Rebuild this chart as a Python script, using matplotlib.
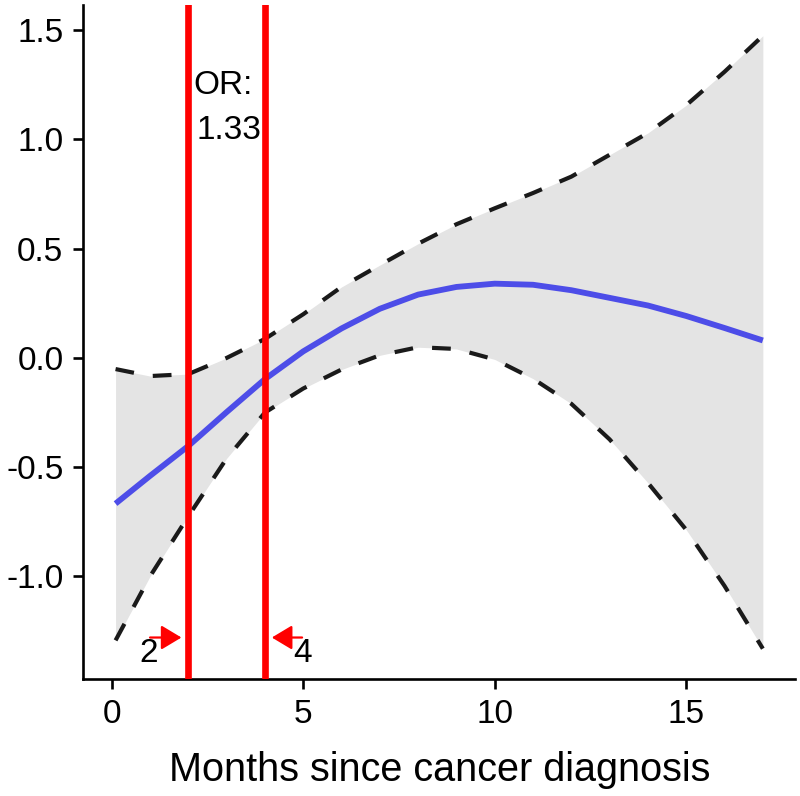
import matplotlib
matplotlib.use("Agg")
import matplotlib.pyplot as plt

plt.rcParams["font.family"] = ["Liberation Sans", "DejaVu Sans"]
plt.rcParams["axes.unicode_minus"] = False

# spline fit with its confidence band
months = [0.1, 1, 2, 3, 4, 5, 6, 7, 8, 9, 10, 11, 12, 13, 14, 15, 16, 17]
fit = [-0.667, -0.54, -0.403, -0.248, -0.097, 0.03, 0.135, 0.225, 0.29, 0.325,
       0.34, 0.335, 0.31, 0.275, 0.24, 0.192, 0.137, 0.08]
upper = [-0.051, -0.083, -0.074, 0.0, 0.087, 0.2, 0.325, 0.425, 0.523, 0.612,
         0.685, 0.755, 0.83, 0.93, 1.03, 1.157, 1.31, 1.475]
lower = [-1.293, -1.0, -0.725, -0.46, -0.25, -0.14, -0.053, 0.012, 0.049, 0.041,
         -0.007, -0.095, -0.21, -0.373, -0.572, -0.787, -1.044, -1.331]

cutoffs = [2, 4]
or_label = ["OR:", "1.33"]

xticks = [0, 5, 10, 15]
yticks = [-1.0, -0.5, 0.0, 0.5, 1.0, 1.5]

fig = plt.figure(figsize=(8, 7.96), dpi=100)
ax = fig.add_axes([0.104, 0.1466, 0.89, 0.847])

ax.fill_between(months, lower, upper, color="#e4e4e4", lw=0, zorder=1)
ax.plot(months, fit, color="#4d4de8", lw=4.2, solid_capstyle="butt", zorder=2)
for band in (upper, lower):
    ax.plot(months, band, color="#1a1a1a", lw=3, ls=(0, (4.5, 4.6)), zorder=3)

for c in cutoffs:
    ax.axvline(c, color="red", lw=4.8, zorder=4)

ax.text(2.12, 1.21, or_label[0], fontsize=24, ha="left", va="baseline", zorder=5)
ax.text(2.22, 1.0, or_label[1], fontsize=24, ha="left", va="baseline", zorder=5)

arrow = dict(arrowstyle="-|>,head_length=0.5,head_width=0.3", color="red",
             lw=1.6, mutation_scale=25, shrinkA=0, shrinkB=0)
ax.annotate("", xy=(1.82, -1.28), xytext=(1.0, -1.28), arrowprops=arrow, zorder=5)
ax.annotate("", xy=(4.18, -1.28), xytext=(4.97, -1.28), arrowprops=arrow, zorder=5)
ax.text(0.97, -1.394, str(cutoffs[0]), fontsize=24, ha="center", va="baseline")
ax.text(4.97, -1.394, str(cutoffs[1]), fontsize=24, ha="center", va="baseline")

# ggplot-style 5% expansion
xr = months[-1] - months[0]
ax.set_xlim(months[0] - 0.05 * xr, months[-1] + 0.05 * xr)
ymin, ymax = min(lower), max(upper)
yr = ymax - ymin
ax.set_ylim(ymin - 0.05 * yr, ymax + 0.05 * yr)

ax.set_xticks(xticks)
ax.set_xticklabels([str(t) for t in xticks])
ax.set_yticks(yticks)
ax.set_yticklabels([f"{t:.1f}" for t in yticks])

for side in ("top", "right"):
    ax.spines[side].set_visible(False)
for side in ("left", "bottom"):
    ax.spines[side].set_linewidth(1.9)
ax.tick_params(axis="both", length=7.2, width=1.9, labelsize=24, colors="black")
ax.tick_params(axis="x", pad=7)
ax.tick_params(axis="y", pad=7)

ax.set_xlabel("Months since cancer diagnosis", fontsize=28.5, labelpad=15)

fig.savefig("out.png", dpi=100)
